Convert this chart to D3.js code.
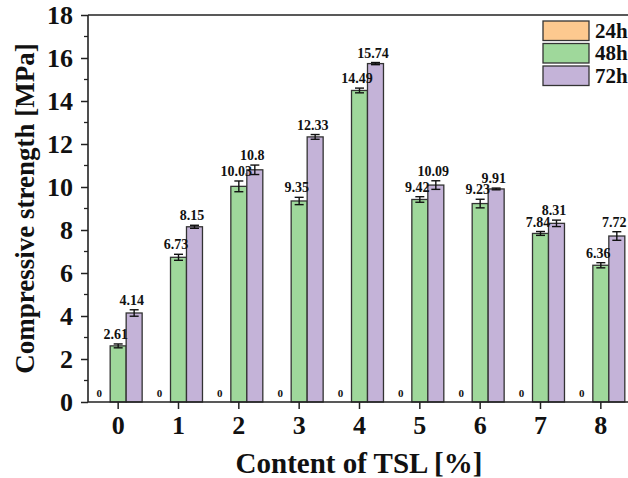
<!DOCTYPE html>
<html><head><meta charset="utf-8">
<script src="https://cdn.jsdelivr.net/npm/d3@7"></script>
<style>body{margin:0;background:#fff}svg{display:block}</style>
</head><body><svg id="c" width="628" height="478" font-family="Liberation Serif" font-weight="bold"></svg>
<script>
const categories = ["0","1","2","3","4","5","6","7","8"];
const seriesNames = ["24h","48h","72h"];
const values24 = [0,0,0,0,0,0,0,0,0];
const values48 = [2.61,6.73,10.03,9.35,14.49,9.42,9.23,7.84,6.36];
const values72 = [4.14,8.15,10.8,12.33,15.74,10.09,9.91,8.31,7.72];
const err48 = [0.09,0.14,0.25,0.17,0.11,0.13,0.2,0.09,0.12];
const err72 = [0.15,0.07,0.22,0.11,0.05,0.2,0.04,0.15,0.2];
const err24 = [0,0,0,0,0,0,0,0,0];
const labels24 = ["0","0","0","0","0","0","0","0","0"];
const labels48 = ["2.61","6.73","10.03","9.35","14.49","9.42","9.23","7.84","6.36"];
const labels72 = ["4.14","8.15","10.8","12.33","15.74","10.09","9.91","8.31","7.72"];
const yTicks = [0,2,4,6,8,10,12,14,16,18];
const colors = ["#fdc98f","#9fd89b","#c4b3d8"];

const FF = "Liberation Serif";
const svg = d3.select("#c");
const L = 88, T = 15, B = 402, R = 631;
const x = d3.scaleBand().domain(categories).range([L, R]).paddingInner(0.205).paddingOuter(0.1025);
const xs = d3.scaleBand().domain(seriesNames).range([0, x.bandwidth()]);
const y = d3.scaleLinear().domain([0,18]).range([B, T]);

const series = [
  {name:"24h", vals:values24, err:err24, lab:labels24},
  {name:"48h", vals:values48, err:err48, lab:labels48},
  {name:"72h", vals:values72, err:err72, lab:labels72}
];

const g = svg.append("g");
const lblG = svg.append("g");
series.forEach((s, si) => {
  categories.forEach((c, i) => {
    const bx = x(c) + xs(s.name);
    const bw = xs.bandwidth();
    const v = s.vals[i];
    if (v > 0) {
      g.append("rect").attr("x", bx).attr("y", y(v)).attr("width", bw).attr("height", y(0) - y(v))
        .attr("fill", colors[si]).attr("stroke", "#333").attr("stroke-width", 1.3);
      const e = s.err[i];
      const cx = bx + bw/2;
      const eg = g.append("g").attr("stroke", "#111").attr("stroke-width", 1.4);
      eg.append("line").attr("x1", cx).attr("x2", cx).attr("y1", y(v+e)).attr("y2", y(v-e));
      eg.append("line").attr("x1", cx-4.5).attr("x2", cx+4.5).attr("y1", y(v+e)).attr("y2", y(v+e));
      eg.append("line").attr("x1", cx-4.5).attr("x2", cx+4.5).attr("y1", y(v-e)).attr("y2", y(v-e));
    }
    const ty = v > 0 ? y(v + s.err[i]) - 5 : y(0) - 5;
    lblG.append("text").attr("x", bx + bw/2 - (v>0?2.5:3)).attr("y", ty).attr("text-anchor", "middle")
      .attr("font-family", FF).attr("font-weight", "bold")
      .attr("font-size", v > 0 ? 14 : 11).attr("fill", "#111").text(s.lab[i]);
  });
});

// axes
const yAxis = d3.axisLeft(y).tickValues(yTicks).tickSize(7).tickPadding(8).tickFormat(d3.format("d"));
const ya = svg.append("g").attr("transform", `translate(${L},0)`).call(yAxis);
ya.attr("font-family", FF).attr("font-weight", "bold");
ya.select(".domain").remove();
ya.selectAll("line").attr("stroke", "#222").attr("stroke-width", 1.5);
ya.selectAll("text").attr("font-size", 26).attr("fill", "#111").attr("dy", "0.34em");
const minor = d3.range(1, 18, 2);
svg.append("g").selectAll("line").data(minor).join("line")
  .attr("x1", L - 4).attr("x2", L).attr("y1", d => y(d)).attr("y2", d => y(d))
  .attr("stroke", "#222").attr("stroke-width", 1.3);

const xAxis = d3.axisBottom(x).tickSize(7).tickPadding(7);
const xa = svg.append("g").attr("transform", `translate(0,${B})`).call(xAxis);
xa.attr("font-family", FF).attr("font-weight", "bold");
xa.select(".domain").remove();
xa.selectAll(".tick").attr("transform", d => `translate(${x(d) + xs("48h") + xs.bandwidth()/2},0)`);
xa.selectAll("line").attr("stroke", "#222").attr("stroke-width", 1.5);
xa.selectAll("text").attr("font-size", 26).attr("fill", "#111");

svg.append("line").attr("x1", L).attr("x2", L).attr("y1", T).attr("y2", B).attr("stroke", "#222").attr("stroke-width", 1.6);
svg.append("line").attr("x1", L).attr("x2", 628).attr("y1", B).attr("y2", B).attr("stroke", "#222").attr("stroke-width", 1.6);
svg.append("line").attr("x1", L).attr("x2", 628).attr("y1", T).attr("y2", T).attr("stroke", "#222").attr("stroke-width", 1.6);

// titles
svg.append("text").attr("x", 359).attr("y", 473).attr("text-anchor", "middle").attr("font-family", FF).attr("font-weight", "bold")
  .attr("font-size", 29).attr("fill", "#111").text("Content of TSL [%]");
svg.append("text").attr("transform", `translate(34,${(T+B)/2}) rotate(-90)`).attr("text-anchor", "middle").attr("font-family", FF).attr("font-weight", "bold")
  .attr("font-size", 27).attr("fill", "#111").text("Compressive strength [MPa]");

// legend
const lg = svg.append("g").attr("transform", "translate(543,21)");
seriesNames.forEach((n, i) => {
  lg.append("rect").attr("x", 0).attr("y", i*22.5).attr("width", 46).attr("height", 19.5)
    .attr("fill", colors[i]).attr("stroke", "#333").attr("stroke-width", 1.3);
  lg.append("text").attr("x", 52).attr("y", i*22.5 + 16.5).attr("font-family", FF).attr("font-weight", "bold")
    .attr("font-size", 21).attr("fill", "#111").text(n);
});
</script></body></html>
